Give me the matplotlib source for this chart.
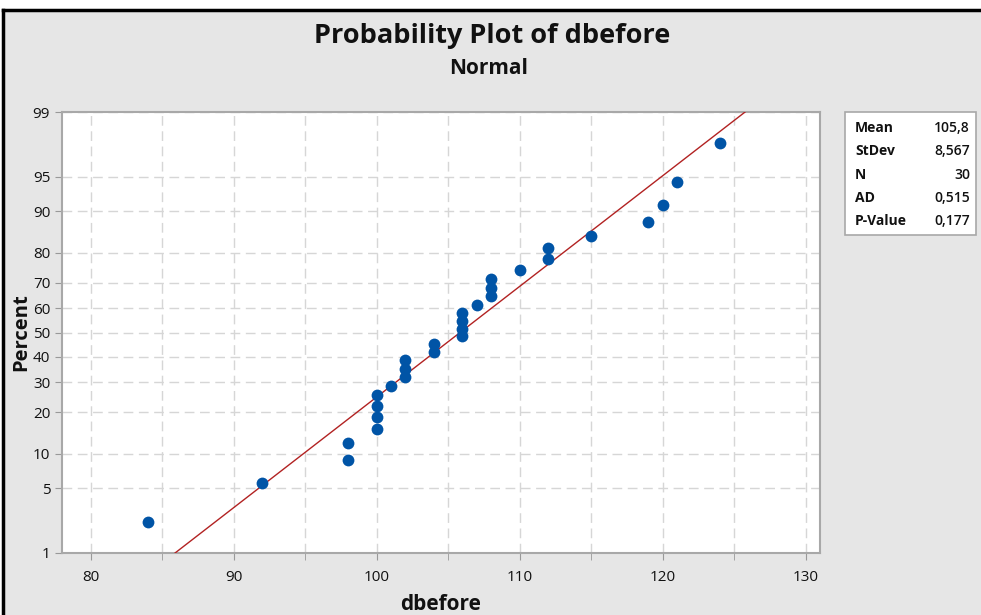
import numpy as np
import matplotlib
matplotlib.use("Agg")
import matplotlib.pyplot as plt
from matplotlib.lines import Line2D
from statistics import NormalDist

# data (dbefore values, sorted)
dbefore = [84, 92, 98, 98, 100, 100, 100, 100, 101, 102, 102, 102, 104, 104,
           106, 106, 106, 106, 107, 108, 108, 108, 110, 112, 112, 115, 119,
           120, 121, 124]
pct_ticks = [1, 5, 10, 20, 30, 40, 50, 60, 70, 80, 90, 95, 99]
x_ticks = [80, 90, 100, 110, 120, 130]
stat_names = ["Mean", "StDev", "N", "AD", "P-Value"]
stat_values = ["105,8", "8,567", "30", "0,515", "0,177"]

plt.rcParams['font.family'] = ['Open Sans', 'DejaVu Sans']

nd = NormalDist()
fwd = np.vectorize(lambda p: nd.inv_cdf(min(max(p, 1e-6), 100 - 1e-6) / 100.0), otypes=[float])
inv = np.vectorize(lambda z: nd.cdf(z) * 100.0, otypes=[float])

x = np.array(dbefore, dtype=float)
n = len(x)
ranks = np.arange(1, n + 1)
pct = (ranks - 0.3) / (n + 0.4) * 100   # median ranks like Minitab
mu = x.mean()
sd = x.std(ddof=1)

fig = plt.figure(figsize=(9.81, 6.15), dpi=100, facecolor='#e6e6e6')
ax = fig.add_axes([62 / 981, 1 - 553 / 615, (820 - 62) / 981, (553 - 112) / 615])
ax.set_facecolor('white')
ax.set_yscale('function', functions=(fwd, inv))

# fitted line
zl = nd.inv_cdf(0.01)
xs = np.linspace(mu + zl * sd, mu - zl * sd, 200)
ax.plot(xs, [nd.cdf((v - mu) / sd) * 100 for v in xs], color='#b22222', lw=1.0, zorder=3)

ax.plot(x, pct, 'o', color='#0054a6', markersize=8.5, markeredgewidth=0, zorder=4)

ax.set_xlim(78, 131)
ax.set_ylim(1, 99)
ax.set_xticks(x_ticks)
ax.set_xticks(np.arange(85, 130, 10), minor=True)
ax.set_yticks(pct_ticks)
ax.set_yticklabels([str(t) for t in pct_ticks])
ax.yaxis.set_minor_locator(matplotlib.ticker.NullLocator())
ax.grid(True, which='both', color='#d6d6d6', linestyle=(0, (7, 4)), lw=1.0)
ax.tick_params(axis='both', which='both', colors='#999999', labelcolor='#111111',
               labelsize=11, length=5, direction='out')
ax.tick_params(axis='x', which='both', pad=7)
ax.tick_params(axis='x', which='minor', length=5)
for s in ax.spines.values():
    s.set_color('#a8a8a8')
    s.set_linewidth(1.5)

ax.set_xlabel('dbefore', fontsize=15, fontweight='bold', color='#111111', labelpad=7)
ax.set_ylabel('Percent', fontsize=14.5, fontweight='bold', color='#111111', labelpad=1)

fig.text(492 / 981, 1 - 36 / 615, 'Probability Plot of dbefore', ha='center', va='center',
         fontsize=19.5, fontweight='bold', color='#111111')
fig.text(489 / 981, 1 - 69 / 615, 'Normal', ha='center', va='center',
         fontsize=15, fontweight='bold', color='#111111')

# stats box
bx0, by0, bx1, by1 = 845, 112, 976, 235
fig.patches.append(plt.Rectangle((bx0 / 981, 1 - by1 / 615), (bx1 - bx0) / 981, (by1 - by0) / 615,
                                 transform=fig.transFigure, facecolor='white',
                                 edgecolor='#a8a8a8', lw=1.2))
for i, (nm, vl) in enumerate(zip(stat_names, stat_values)):
    yy = 1 - (128 + i * 23.3) / 615
    fig.text(855 / 981, yy, nm, ha='left', va='center', fontsize=10,
             fontweight='bold', color='#111111')
    fig.text(970 / 981, yy, vl, ha='right', va='center', fontsize=10,
             fontweight='semibold', color='#111111')

# outer black frame (top and left)
fig.add_artist(Line2D([3 / 981, 1], [1 - 10 / 615, 1 - 10 / 615], color='black', lw=2.5,
                      transform=fig.transFigure))
fig.add_artist(Line2D([3 / 981, 3 / 981], [0, 1 - 10 / 615], color='black', lw=2.5,
                      transform=fig.transFigure))
fig.patches.append(plt.Rectangle((0, 1 - 10 / 615), 1, 10 / 615, transform=fig.transFigure,
                                 facecolor='white', edgecolor='none', zorder=-1))
fig.patches.append(plt.Rectangle((0, 0), 3 / 981, 1, transform=fig.transFigure,
                                 facecolor='white', edgecolor='none', zorder=-1))

fig.savefig('out.png', dpi=100, facecolor=fig.get_facecolor())
